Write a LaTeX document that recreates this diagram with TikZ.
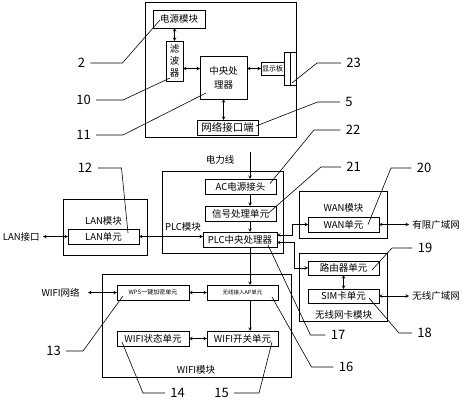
\documentclass[tikz,border=0pt]{standalone}
\usepackage{fontspec}
\setmainfont{Noto Sans CJK SC}
\usetikzlibrary{arrows,positioning}

\begin{document}
\begin{tikzpicture}[x=1pt, y=1pt, >=stealth, line width=0.6pt,
                    unit/.style = {draw, inner sep=0pt, outer sep=0pt, minimum height=15,
                                   font=\fontsize{9.5}{11}\selectfont},
                    module/.style = {draw, inner sep=0pt, outer sep=0pt},
                    txt/.style = {inner sep=0pt, font=\fontsize{9.5}{11}\selectfont},
                    port/.style = {txt, inner xsep=3pt},
                    num/.style = {inner xsep=5pt, inner ysep=0pt, font=\fontsize{13}{14}\selectfont}]
\useasboundingbox (0,0) rectangle (464,400);
% terminal
\node[module, minimum width=151, minimum height=135] (term) at (220.5,330.5) {};
\node[unit, minimum width=52, minimum height=18] (2) at (179,381) {电源模块};
\node[unit, minimum width=17, minimum height=40, align=center, font=\fontsize{9.5}{12}\selectfont] (10) at (174.5,339) {滤\\波\\器};
\node[unit, minimum width=47, minimum height=43, align=center, font=\fontsize{9.5}{14}\selectfont] (11) at (223.5,322.5) {中央处\\理器};
\node[unit, minimum width=23, minimum height=13, font=\fontsize{7}{8}\selectfont] (23) at (272.5,331.5) {显示板};
\node[module, minimum width=12, minimum height=33] (bar) at (290,331.5) {};
\draw (bar.north) -- (bar.south);
\node[unit, minimum width=61, font=\fontsize{10.5}{12}\selectfont] (5) at (227.5,272.5) {网络接口端};
% PLC
\node[module, minimum width=121, minimum height=82] (plc) at (222.5,188) {};
\node[unit, minimum width=71] (22) at (240.5,213.5) {AC电源接头};
\node[unit, minimum width=71] (21) at (240.5,186.5) {信号处理单元};
\node[unit, minimum width=74] (17) at (240,160.5) {PLC中央处理器};
\node[txt] (plct) at (183,173) {PLC模块};
\node[txt] (pwr) at (220,240) {电力线};
\coordinate (line) at (250,248);
% LAN
\node[module, minimum width=84, minimum height=56] (lan) at (105,173) {};
\node[unit, minimum width=71] (12) at (103.5,163.5) {LAN单元};
\node[txt, above=3pt of 12] (lant) {LAN模块};
\node[port, left=25pt of 12] (lanport) {LAN接口};
% WAN
\node[module, minimum width=88, minimum height=47] (wan) at (343,185.5) {};
\node[unit, minimum width=71] (20) at (343.5,175.5) {WAN单元};
\node[txt, above=4pt of 20] (want) {WAN模块};
\node[port, right=30pt of 20] (wired) {有限广域网};
% wireless card
\node[module, minimum width=88, minimum height=68] (wl) at (343,113) {};
\node[unit, minimum width=71, minimum height=14] (19) at (343.5,132) {路由器单元};
\node[unit, minimum width=71, minimum height=14] (18) at (343.5,104) {SIM卡单元};
\node[txt, below=7pt of 18] (wlt) {无线网卡模块};
\node[port, right=30pt of 18] (wireless) {无线广域网};
% WIFI
\node[module, minimum width=189, minimum height=103] (wifi) at (196.5,74.5) {};
\node[unit, minimum width=72, font=\fontsize{6}{7}\selectfont] (13) at (153,107.5) {WPS一键加密单元};
\node[unit, minimum width=71, font=\fontsize{5.5}{6}\selectfont] (16) at (242.5,107.5) {无线接入AP单元};
\node[unit, minimum width=72] (14) at (153,61.5) {WIFI状态单元};
\node[unit, minimum width=71] (15) at (242.5,61.5) {WIFI开关单元};
\node[txt] (wifit) at (196,30) {WIFI模块};
\node[txt, inner xsep=8pt, left=29pt of 13] (wifinet) {WIFI网络};
% links
\path[<->]
  (10.north) edge (10.north |- 2.south)
  (10.east |- 23.west) edge (11.west |- 23.west)
  (11.east |- 23.west) edge (23.west)
  (11.south) edge (11.south |- 5.north)
  (lanport.east) edge (12.west)
  (12.east) edge (17.west |- 12.east)
  (20.east) edge (wired.west)
  (19.south) edge (18.north)
  (18.east) edge (wireless.west)
  (wifinet.east) edge (13.west)
  (13.east) edge (16.west)
  (14.east) edge (15.west);
\path[->]
  (line) edge (line |- 22.north)
  (line |- 22.south) edge (line |- 21.north)
  (line |- 21.south) edge (line |- 17.north)
  (line |- 17.south) edge (line |- 16.north)
  (line |- 16.south) edge (line |- 15.north);
\draw[<->] ([yshift=4.5]17.east) -- ++(15,0) |- (20.west);
\draw[<->] ([yshift=-3]17.east) -- ++(17,0) |- (19.west);
% reference numbers
\node[num] (n2) at (81.5,337) {2};
\node[num] (n10) at (83.5,300) {10};
\node[num] (n11) at (83.5,265) {11};
\node[num] (n12) at (85,232) {12};
\node[num] (n13) at (53.5,49) {13};
\node[num] (n14) at (177.5,7) {14};
\node[num] (n15) at (221.5,7) {15};
\node[num] (n16) at (346,33) {16};
\node[num] (n17) at (338,65) {17};
\node[num] (n18) at (424.5,67) {18};
\node[num] (n19) at (425,152) {19};
\node[num] (n20) at (424,232) {20};
\node[num] (n21) at (353.5,233) {21};
\node[num] (n22) at (353,270) {22};
\node[num] (n5) at (349,298) {5};
\node[num] (n23) at (353.5,337) {23};
\draw (n2.east) -- ++(32,0) -- ([shift={(7,-1)}]2.west);
\draw (n10.east) -- ++(27,0) -- ([shift={(4,3)}]10.south west);
\draw (n11.east) -- ++(27,0) -- ([shift={(6,6)}]11.south west);
\draw (n12.east) -- ++(24,0) -- ([shift={(-11,3.5)}]12.east);
\draw (n13.east) -- ++(17,0) -- ([shift={(6,-3.5)}]13.west);
\draw (n14.west) -- ++(-22,0) -- ([shift={(5,-3.5)}]14.west);
\draw (n15.east) -- ++(25,0) -- ([shift={(-6,-3.5)}]15.east);
\draw (n16.west) -- ++(-22,0) -- ([shift={(-6,-4.5)}]16.east);
\draw (n17.west) -- ++(-15,0) -- ([shift={(-9,-5.5)}]17.east);
\draw (n18.west) -- ++(-13,0) -- ([shift={(-10,-2)}]18.east);
\draw (n19.west) -- ++(-20.5,0) -- ([shift={(-7,-2)}]19.east);
\draw (n20.west) -- ++(-20.5,0) -- ([xshift=-11]20.east);
\draw (n21.west) -- ++(-20,0) -- ([xshift=-8]21.east);
\draw (n22.west) -- ++(-26.5,0) -- ([shift={(-6,3)}]22.east);
\draw (n5.west) -- ++(-22.5,0) -- ([shift={(-2,1.5)}]5.east);
\draw (n23.west) -- ++(-24,0) -- ([shift={(-4,2)}]bar.south east);
\end{tikzpicture}
\end{document}
